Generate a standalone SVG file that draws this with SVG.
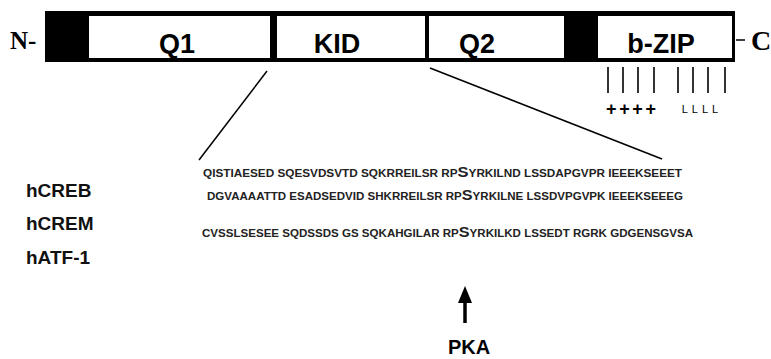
<svg xmlns="http://www.w3.org/2000/svg" width="771" height="359" viewBox="0 0 771 359">
<style>
.dom{fill:#fff;stroke:none}
.lbl{font-family:"Liberation Sans",Arial,sans-serif;font-weight:bold;font-size:27px;fill:#000;text-anchor:middle}
.seq{font-family:"Liberation Sans",Arial,sans-serif;font-weight:bold;font-size:10px;fill:#222}
.big{font-size:14px}
.name{font-family:"Liberation Sans",Arial,sans-serif;font-weight:bold;font-size:19px;fill:#111}
.ln{stroke:#000;stroke-width:1.5;fill:none}
.tick{stroke:#000;stroke-width:1.6}
</style>
<rect width="771" height="359" fill="#fff"/>
<g id="protein">
<rect x="45" y="11" width="690" height="51" fill="#000"/>
<g id="Q1"><rect class="dom" x="89" y="16" width="181" height="42"/><text class="lbl" x="177" y="53">Q1</text></g>
<g id="KID"><rect class="dom" x="277" y="16" width="148" height="42"/><text class="lbl" x="337" y="53">KID</text></g>
<g id="Q2"><rect class="dom" x="429" y="16" width="135" height="42"/><text class="lbl" x="477" y="53">Q2</text></g>
<g id="bZIP"><rect class="dom" x="598" y="16" width="134" height="42"/><text class="lbl" x="661" y="53">b-ZIP</text></g>
</g>
<g id="termini">
<text x="10" y="49" font-family="Liberation Serif,Times New Roman,serif" font-weight="bold" font-size="25">N-</text>
<line x1="736" y1="40" x2="745" y2="40" stroke="#000" stroke-width="1.5"/>
<text x="751" y="50" font-family="Liberation Serif,Times New Roman,serif" font-weight="bold" font-size="28">C</text>
</g>
<g id="zipper">
<line class="tick" x1="608" y1="67" x2="608" y2="93"/>
<line class="tick" x1="623" y1="67" x2="623" y2="93"/>
<line class="tick" x1="638" y1="67" x2="638" y2="93"/>
<line class="tick" x1="654" y1="67" x2="654" y2="93"/>
<line class="tick" x1="678" y1="67" x2="678" y2="93"/>
<line class="tick" x1="693" y1="67" x2="693" y2="93"/>
<line class="tick" x1="708" y1="67" x2="708" y2="93"/>
<line class="tick" x1="725" y1="67" x2="725" y2="93"/>
<text x="631" y="115" font-family="Liberation Sans,Arial,sans-serif" font-weight="bold" font-size="18" fill="#000" text-anchor="middle" textLength="50" lengthAdjust="spacing">++++</text>
<text x="702" y="113" font-family="Liberation Sans,Arial,sans-serif" font-size="11" fill="#000" text-anchor="middle" letter-spacing="4">LLLL</text>
</g>
<g id="connectors">
<line class="ln" x1="267" y1="71" x2="199" y2="160"/>
<line class="ln" x1="430" y1="68" x2="662" y2="159"/>
</g>
<g id="hCREB">
<text class="name" x="26" y="197">hCREB</text>
<text class="seq" x="203" y="177" textLength="479" lengthAdjust="spacingAndGlyphs">QISTIAESED SQESVDSVTD SQKRREILSR RP<tspan class="big">S</tspan>YRKILND LSSDAPGVPR IEEEKSEEET</text>
</g>
<g id="hCREM">
<text class="name" x="26" y="230">hCREM</text>
<text class="seq" x="207" y="200" textLength="476" lengthAdjust="spacingAndGlyphs">DGVAAAATTD ESADSEDVID SHKRREILSR RP<tspan class="big">S</tspan>YRKILNE LSSDVPGVPK IEEEKSEEEG</text>
</g>
<g id="hATF1">
<text class="name" x="26" y="264">hATF-1</text>
<text class="seq" x="202" y="237" textLength="491" lengthAdjust="spacingAndGlyphs">CVSSLSESEE SQDSSDS GS SQKAHGILAR RP<tspan class="big">S</tspan>YRKILKD LSSEDT RGRK GDGENSGVSA</text>
</g>
<g id="PKA">
<line x1="465" y1="300" x2="465" y2="323" stroke="#000" stroke-width="3.5"/>
<polygon points="465,286 458,303 472,303" fill="#000"/>
<text x="469" y="354" font-family="Liberation Sans,Arial,sans-serif" font-weight="bold" font-size="20" text-anchor="middle">PKA</text>
</g>
</svg>
